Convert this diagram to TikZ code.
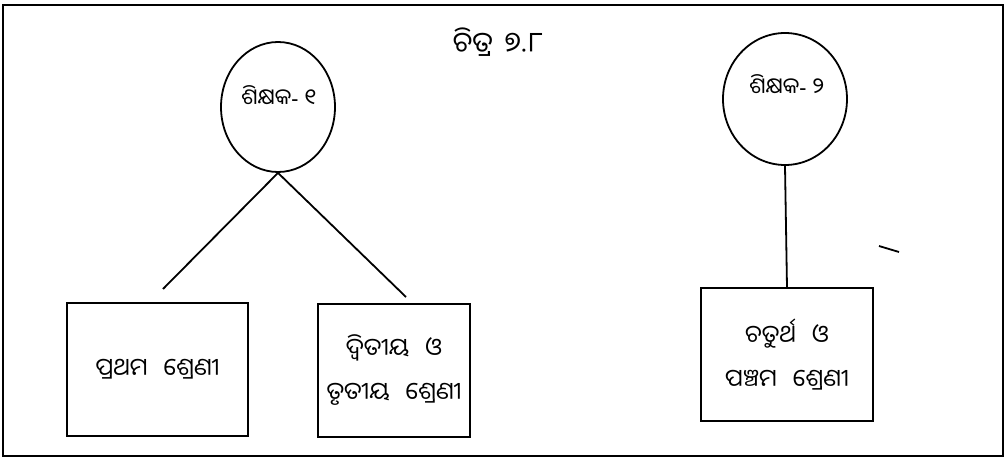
\documentclass[tikz,border=0pt]{standalone}
\usepackage{fontspec}
\usepackage{tikz}
\usetikzlibrary{shapes.geometric}
\newfontfamily\oriyafont[Script=Oriya]{Noto Sans Oriya UI}
\newfontfamily\latinfont{Noto Sans}

\begin{document}
\begin{tikzpicture}[x=1pt, y=-1pt, line width=1.8pt,
                    every node/.style={font=\oriyafont\fontsize{24}{44}\selectfont, align=center, inner sep=0pt},
                    teacher/.style={ellipse, draw},
                    tname/.style={font=\oriyafont\fontsize{22}{30}\selectfont},
                    classbox/.style={rectangle, draw, minimum height=133pt}]
                    \useasboundingbox (0,0) rectangle (1005,457);
                    \draw (3,5) rectangle (1003,456);

                    \node[font=\oriyafont\fontsize{28}{34}\selectfont] (T) at (498,42) {ଚିତ୍ର\hspace{12pt}୭.୮};

                    \node[teacher, minimum width=114pt, minimum height=130pt] (S1) at (278,107) {};
                    \node[tname] (S1t) at (279,96) {ଶିକ୍ଷକ{\latinfont -} ୧};
                    \node[teacher, minimum width=124pt, minimum height=132pt] (S2) at (785,99) {};
                    \node[tname] (S2t) at (787,85) {ଶିକ୍ଷକ{\latinfont -} ୨};

                    \node[classbox, minimum width=181pt] (C1) at (157.5,369.5) {ପ୍ରଥମ\hspace{16pt}ଶ୍ରେଣୀ};
                    \node[classbox, minimum width=152pt] (C2) at (394,370.5) {ଦ୍ୱିତୀୟ\hspace{16pt}ଓ\\ତୃତୀୟ\hspace{16pt}ଶ୍ରେଣୀ};
                    \node[classbox, minimum width=172pt] (C3) at (787,354.5) {ଚତୁର୍ଥ\hspace{16pt}ଓ\\ପଞ୍ଚମ\hspace{16pt}ଶ୍ରେଣୀ};

                    \coordinate (L1) at (163,289);
                    \coordinate (L2) at (406,297);
                    \coordinate (M1) at (879,246);
                    \coordinate (M2) at (899,252);

                    \draw (S1.south) -- (L1);
                    \draw (S1.south) -- (L2);
                    \draw (S2.south) -- (C3.north);
                    \draw (M1) -- (M2);
                \end{tikzpicture}
\end{document}
